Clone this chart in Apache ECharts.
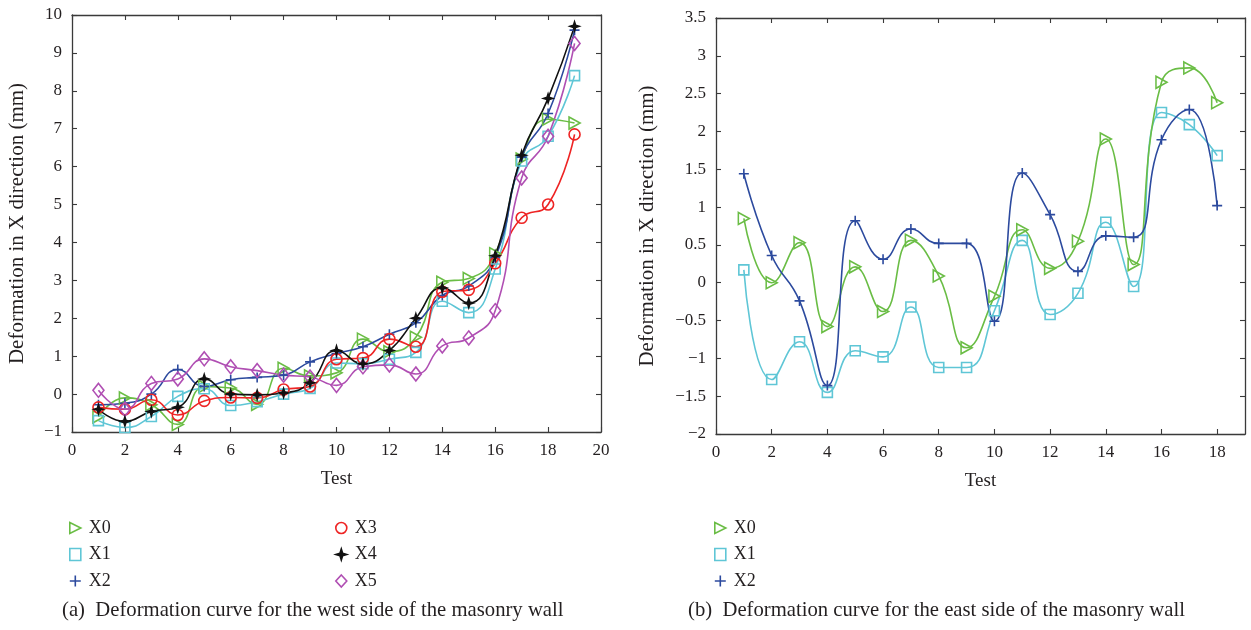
<!DOCTYPE html>
<html>
<head>
<meta charset="utf-8">
<title>Masonry wall deformation</title>
<script src="https://cdn.jsdelivr.net/npm/echarts@6/dist/echarts.min.js"></script>
<style>
  html, body { margin: 0; padding: 0; background: #ffffff; }
  #chart { width: 1251px; height: 630px; }
</style>
</head>
<body>
<div id="chart"></div>
<script>
// West side readings (tests 1-19)
const westTests = [1, 2, 3, 4, 5, 6, 7, 8, 9, 10, 11, 12, 13, 14, 15, 16, 17, 18, 19];
const westX0 = [-0.6, -0.1, -0.28, -0.8, 0.2, 0.16, -0.27, 0.68, 0.48, 0.56, 1.45, 1.12, 1.5, 2.95, 3.05, 3.7, 6.2, 7.25, 7.15];
const westX1 = [-0.7, -0.88, -0.59, -0.06, 0.14, -0.3, -0.2, 0.0, 0.15, 0.82, 0.8, 0.92, 1.1, 2.45, 2.15, 3.3, 6.15, 6.8, 8.4];
const westX2 = [-0.28, -0.24, 0.0, 0.65, 0.2, 0.38, 0.44, 0.5, 0.85, 1.07, 1.25, 1.58, 1.88, 2.6, 2.85, 3.6, 6.25, 7.4, 9.6];
const westX3 = [-0.35, -0.4, -0.15, -0.55, -0.18, -0.09, -0.1, 0.12, 0.2, 0.92, 0.95, 1.45, 1.25, 2.7, 2.75, 3.45, 4.65, 5.0, 6.85];
const westX4 = [-0.4, -0.72, -0.46, -0.35, 0.4, 0.0, -0.02, 0.03, 0.3, 1.15, 0.8, 1.15, 2.0, 2.8, 2.4, 3.65, 6.3, 7.8, 9.7];
const westX5 = [0.1, -0.4, 0.28, 0.4, 0.93, 0.72, 0.62, 0.5, 0.45, 0.23, 0.72, 0.77, 0.53, 1.27, 1.48, 2.2, 5.7, 6.8, 9.25];

// East side readings (tests 1-18)
const eastTests = [1, 2, 3, 4, 5, 6, 7, 8, 9, 10, 11, 12, 13, 14, 15, 16, 17, 18];
const eastX0 = [0.85, 0.0, 0.53, -0.58, 0.21, -0.38, 0.56, 0.09, -0.86, -0.18, 0.7, 0.19, 0.55, 1.9, 0.24, 2.65, 2.84, 2.38];
const eastX1 = [0.17, -1.28, -0.78, -1.45, -0.9, -0.98, -0.32, -1.12, -1.12, -0.37, 0.56, -0.42, -0.14, 0.8, -0.05, 2.25, 2.09, 1.68];
const eastX2 = [1.44, 0.36, -0.24, -1.36, 0.82, 0.31, 0.71, 0.52, 0.52, -0.51, 1.45, 0.9, 0.15, 0.62, 0.6, 1.89, 2.29, 1.02];

// Axis ticks
const westXTicks = { min: 0, max: 20, interval: 2 };
const westYTicks = { min: -1, max: 10, interval: 1 };
const eastXTicks = { min: 0, max: 19, interval: 2 };
const eastYTicks = { min: -2, max: 3.5, interval: 0.5 };

const captions = [
  '(a)  Deformation curve for the west side of the masonry wall',
  '(b)  Deformation curve for the east side of the masonry wall'
];
const yTitle = 'Deformation in X direction (mm)';
const xTitle = 'Test';

const SERIF = 'Liberation Serif';
const TEXT = '#231f20';
const AXIS = '#3a3a3a';

// Marker and colour per series name
const styles = {
  X0: { color: '#6abd45', symbol: 'path://M0,0 L10,5 L0,10 Z', size: [11, 12], filled: false },
  X1: { color: '#5fc6d6', symbol: 'rect', size: 10, filled: false },
  X2: { color: '#2c4a9e', symbol: 'path://M5,0 L5,10 M0,5 L10,5', size: 10, filled: false },
  X3: { color: '#ee2424', symbol: 'circle', size: 11, filled: false },
  X4: { color: '#111111', symbol: 'path://M5,0 L6.2,3.8 L10,5 L6.2,6.2 L5,10 L3.8,6.2 L0,5 L3.8,3.8 Z', size: 9, filled: true },
  X5: { color: '#b04fb3', symbol: 'diamond', size: [11, 14], filled: false }
};

function pairs(xs, ys) {
  return xs.map((x, i) => [x, ys[i]]);
}

function lineSeries(name, xs, ys, axisIndex) {
  const s = styles[name];
  return {
    name: name,
    type: 'line',
    xAxisIndex: axisIndex,
    yAxisIndex: axisIndex,
    data: pairs(xs, ys),
    smooth: 0.5,
    symbol: s.symbol,
    symbolSize: s.size,
    showAllSymbol: true,
    lineStyle: { color: s.color, width: 1.6 },
    itemStyle: {
      color: s.filled ? s.color : 'rgba(255,255,255,0)',
      borderColor: s.color,
      borderWidth: 1.6
    },
    emphasis: { disabled: true },
    animation: false
  };
}

const minus = v => String(v).replace('-', '\u2212');

function baseAxis(extra) {
  return Object.assign({
    type: 'value',
    axisLine: { show: true, onZero: false, lineStyle: { color: AXIS, width: 1.3 } },
    axisTick: { show: true, inside: true, length: 5, lineStyle: { color: AXIS, width: 1.1 } },
    splitLine: { show: false },
    axisLabel: { show: false }
  }, extra);
}

function xAxes(grid, ticks, showMax) {
  return [
    baseAxis({
      gridIndex: grid, position: 'bottom', min: ticks.min, max: ticks.max, interval: ticks.interval,
      name: xTitle, nameLocation: 'middle', nameGap: 38,
      nameTextStyle: { fontFamily: SERIF, fontSize: 19, color: TEXT },
      axisLabel: { show: true, margin: 10, fontFamily: SERIF, fontSize: 17, color: TEXT, formatter: minus, showMaxLabel: showMax }
    }),
    baseAxis({
      gridIndex: grid, position: 'top', min: ticks.min, max: ticks.max, interval: ticks.interval
    })
  ];
}

function yAxes(grid, ticks, gap) {
  return [
    baseAxis({
      gridIndex: grid, position: 'left', min: ticks.min, max: ticks.max, interval: ticks.interval,
      name: yTitle, nameLocation: 'middle', nameGap: gap,
      nameTextStyle: { fontFamily: SERIF, fontSize: 21, color: TEXT },
      axisLabel: { show: true, margin: 10, fontFamily: SERIF, fontSize: 17, color: TEXT, formatter: minus }
    }),
    baseAxis({
      gridIndex: grid, position: 'right', min: ticks.min, max: ticks.max, interval: ticks.interval
    })
  ];
}

function legendBlock(names, left) {
  return {
    orient: 'vertical',
    left: left,
    top: 514,
    itemWidth: 11,
    itemHeight: 12,
    itemGap: 8.5,
    itemStyle: { borderWidth: 1.6 },
    textStyle: { fontFamily: SERIF, fontSize: 18, color: TEXT, padding: [0, 0, 0, 3] },
    selectedMode: false,
    data: names.map(n => ({ name: n, icon: styles[n].symbol }))
  };
}

const westSeries = [
  ['X0', westX0], ['X1', westX1], ['X2', westX2], ['X3', westX3], ['X5', westX5], ['X4', westX4]
].map(([n, ys]) => lineSeries(n, westTests, ys, 0));

// The east grid owns x/y axes 2 (bottom/left) and 3 (top/right)
const eastSeries = [
  ['X1', eastX1], ['X0', eastX0], ['X2', eastX2]
].map(([n, ys]) => lineSeries(n, eastTests, ys, 2));

const chart = echarts.init(document.getElementById('chart'), null, { renderer: 'canvas' });

const captionStyle = { fontFamily: SERIF, fontSize: 20.7, fontWeight: 'normal', color: TEXT };

chart.setOption({
  backgroundColor: '#ffffff',
  animation: false,
  grid: [
    { left: 72, top: 15, width: 529, height: 417, containLabel: false },
    { left: 716, top: 18, width: 529, height: 416, containLabel: false }
  ],
  xAxis: [...xAxes(0, westXTicks, true), ...xAxes(1, eastXTicks, false)],
  yAxis: [...yAxes(0, westYTicks, 44), ...yAxes(1, eastYTicks, 58)],
  legend: [
    legendBlock(['X0', 'X1', 'X2'], 64),
    legendBlock(['X3', 'X4', 'X5'], 330),
    legendBlock(['X0', 'X1', 'X2'], 709)
  ],
  title: [
    { text: captions[0], left: 62, top: 600, padding: 0, textStyle: captionStyle },
    { text: captions[1], left: 688, top: 600, padding: 0, textStyle: captionStyle }
  ],
  series: [...westSeries, ...eastSeries]
});
</script>
</body>
</html>
